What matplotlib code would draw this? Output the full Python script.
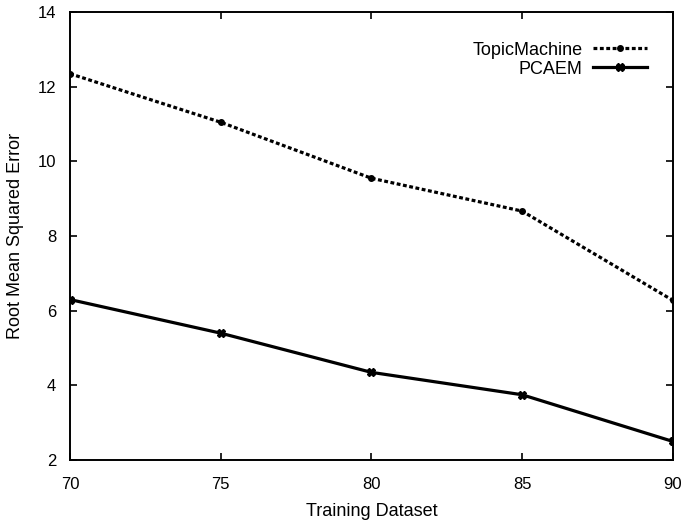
import matplotlib.pyplot as plt

plt.rcParams['font.family'] = ['Liberation Sans', 'DejaVu Sans']

train_sizes = [70, 75, 80, 85, 90]
topic_machine = [12.35, 11.05, 9.55, 8.67, 6.28]
pcaem = [6.3, 5.4, 4.35, 3.75, 2.5]

fig = plt.figure(figsize=(6.83, 5.27), dpi=100)
ax = fig.add_axes([0.1025, 0.127, 0.8825, 0.85])

ax.plot(train_sizes, topic_machine, color='black', linestyle=(0, (1.2, 0.8)), linewidth=2.3,
        marker='o', markersize=4, label='TopicMachine')
ax.plot(train_sizes, pcaem, color='black', linestyle='-', linewidth=2.3,
        marker='X', markersize=6, label='PCAEM')

ax.set_xlim(70, 90)
ax.set_ylim(2, 14)
ax.set_xticks(train_sizes)
ax.set_yticks([2, 4, 6, 8, 10, 12, 14])
ax.tick_params(direction='in', top=True, right=True, length=5, width=1.2, labelsize=12)
ax.tick_params(axis='x', pad=12)
ax.tick_params(axis='y', pad=10)
for s in ax.spines.values():
    s.set_linewidth(1.4)

ax.set_xlabel('Training Dataset', fontsize=13, labelpad=8)
ax.set_ylabel('Root Mean Squared Error', fontsize=13, labelpad=10)

leg = ax.legend(loc='upper right', frameon=False, fontsize=13, markerfirst=False,
                handlelength=3.0, handletextpad=0.6, labelspacing=0.1,
                bbox_to_anchor=(0.985, 0.97))
for t in leg.get_texts():
    t.set_ha('right')

fig.savefig('out.png', dpi=100)
